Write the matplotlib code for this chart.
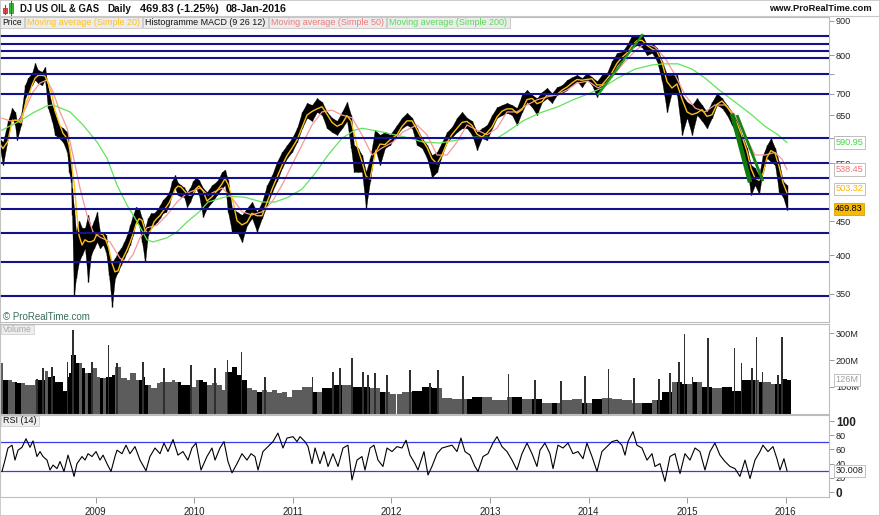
import numpy as np
import pandas as pd
import matplotlib
matplotlib.use("Agg")
import matplotlib.pyplot as plt
from matplotlib.patches import Rectangle
from matplotlib.lines import Line2D
from matplotlib.transforms import blended_transform_factory
from matplotlib.ticker import NullLocator, NullFormatter

plt.rcParams['font.family'] = ['Liberation Sans', 'DejaVu Sans']

# ---------------- data (time in decimal years) ----------------
price_t = [
    2008.030, 2008.060, 2008.111, 2008.152, 2008.182, 2008.202, 2008.243, 2008.284, 2008.314, 2008.355,
    2008.385, 2008.415, 2008.456, 2008.486, 2008.517, 2008.557, 2008.588, 2008.628, 2008.669, 2008.710,
    2008.730, 2008.750, 2008.760, 2008.781, 2008.801, 2008.831, 2008.862, 2008.892, 2008.923, 2008.953,
    2008.983, 2009.014, 2009.044, 2009.075, 2009.105, 2009.135, 2009.166, 2009.196, 2009.227, 2009.257,
    2009.288, 2009.318, 2009.348, 2009.379, 2009.409, 2009.440, 2009.470, 2009.501, 2009.531, 2009.561,
    2009.592, 2009.622, 2009.653, 2009.683, 2009.714, 2009.744, 2009.774, 2009.805, 2009.835, 2009.866,
    2009.896, 2009.927, 2009.957, 2009.987, 2010.018, 2010.048, 2010.089, 2010.129, 2010.180, 2010.231,
    2010.282, 2010.312, 2010.342, 2010.383, 2010.434, 2010.484, 2010.535, 2010.586, 2010.636, 2010.687,
    2010.738, 2010.789, 2010.839, 2010.890, 2010.941, 2010.991, 2011.042, 2011.093, 2011.144, 2011.194,
    2011.245, 2011.296, 2011.346, 2011.397, 2011.448, 2011.499, 2011.549, 2011.590, 2011.620, 2011.661,
    2011.701, 2011.742, 2011.783, 2011.833, 2011.884, 2011.935, 2011.985, 2012.056, 2012.107, 2012.158,
    2012.209, 2012.259, 2012.310, 2012.361, 2012.411, 2012.462, 2012.513, 2012.564, 2012.614, 2012.665,
    2012.716, 2012.766, 2012.817, 2012.868, 2012.918, 2012.969, 2013.020, 2013.071, 2013.121, 2013.172,
    2013.223, 2013.273, 2013.324, 2013.375, 2013.426, 2013.476, 2013.527, 2013.578, 2013.628, 2013.679,
    2013.730, 2013.781, 2013.831, 2013.882, 2013.933, 2013.983, 2014.034, 2014.085, 2014.135, 2014.186,
    2014.237, 2014.288, 2014.338, 2014.389, 2014.440, 2014.490, 2014.541, 2014.592, 2014.643, 2014.693,
    2014.744, 2014.795, 2014.845, 2014.896, 2014.947, 2014.998, 2015.048, 2015.099, 2015.150, 2015.200,
    2015.251, 2015.302, 2015.353, 2015.403, 2015.454, 2015.505, 2015.555, 2015.606, 2015.647, 2015.687,
    2015.728, 2015.768, 2015.809, 2015.849, 2015.890, 2015.931, 2015.971, 2016.012]
price_high = [
    598, 592, 637, 666, 657, 637, 650, 721, 739, 752,
    778, 760, 755, 768, 714, 673, 657, 628, 621, 613,
    580, 553, 505, 470, 434, 451, 440, 440, 460, 440,
    451, 465, 434, 434, 429, 401, 391, 396, 405, 410,
    419, 429, 444, 460, 473, 470, 455, 440, 455, 463,
    463, 468, 476, 485, 490, 498, 517, 528, 514, 510,
    506, 498, 505, 517, 524, 519, 505, 498, 510, 517,
    534, 538, 519, 471, 465, 460, 471, 481, 465, 481,
    510, 528, 553, 572, 586, 600, 621, 657, 678, 673,
    689, 680, 657, 644, 637, 657, 680, 650, 586, 580,
    566, 534, 560, 617, 607, 613, 607, 628, 644, 655,
    644, 621, 600, 586, 566, 572, 592, 613, 624, 644,
    657, 644, 637, 613, 621, 628, 650, 668, 673, 678,
    673, 666, 697, 709, 697, 689, 704, 714, 701, 716,
    721, 734, 741, 747, 739, 752, 741, 731, 747, 752,
    784, 806, 809, 828, 857, 857, 860, 828, 834, 820,
    784, 747, 747, 747, 697, 680, 673, 689, 673, 657,
    680, 701, 689, 673, 657, 637, 607, 580, 547, 541,
    528, 566, 586, 600, 580, 553, 517, 510]
price_low = [
    578, 547, 600, 644, 628, 596, 628, 689, 704, 721,
    734, 726, 721, 734, 666, 637, 607, 600, 592, 572,
    534, 516, 460, 349, 370, 391, 401, 410, 365, 401,
    410, 419, 410, 415, 405, 374, 335, 370, 378, 387,
    396, 405, 415, 429, 449, 444, 419, 391, 429, 440,
    444, 449, 455, 463, 465, 476, 493, 505, 493, 490,
    490, 473, 481, 493, 505, 493, 457, 471, 481, 493,
    505, 510, 465, 434, 434, 419, 444, 455, 434, 455,
    476, 498, 517, 541, 560, 572, 592, 621, 644, 637,
    657, 650, 621, 613, 607, 621, 637, 580, 534, 534,
    534, 471, 517, 580, 547, 580, 586, 607, 621, 628,
    621, 586, 580, 560, 524, 534, 566, 592, 602, 613,
    621, 621, 607, 576, 600, 596, 621, 644, 650, 655,
    650, 628, 657, 680, 668, 650, 680, 689, 678, 697,
    701, 709, 721, 731, 716, 734, 721, 692, 716, 731,
    747, 773, 786, 800, 820, 828, 822, 800, 806, 784,
    731, 657, 704, 697, 607, 644, 607, 650, 637, 621,
    644, 673, 666, 650, 628, 607, 566, 541, 493, 510,
    495, 534, 560, 553, 547, 498, 490, 468]
volume_m = [
    189, 125, 125, 119, 119, 113, 113, 106, 106, 106,
    125, 125, 125, 160, 136, 140, 119, 119, 85, 137,
    150, 219, 219, 219, 189, 189, 170, 151, 151, 170,
    170, 137, 132, 132, 137, 137, 144, 175, 175, 132,
    132, 125, 151, 151, 125, 125, 137, 106, 106, 94,
    94, 113, 119, 119, 119, 119, 125, 119, 119, 106,
    106, 106, 100, 100, 125, 125, 119, 106, 113, 106,
    87, 155, 155, 175, 144, 125, 94, 87, 81, 87,
    81, 87, 75, 81, 60, 87, 87, 100, 100, 81,
    81, 94, 94, 106, 106, 106, 106, 100, 100, 100,
    100, 100, 94, 94, 81, 81, 73, 73, 81, 81,
    85, 85, 100, 100, 94, 94, 59, 59, 56, 56,
    56, 56, 62, 62, 62, 62, 50, 50, 50, 62,
    62, 62, 56, 56, 56, 56, 40, 40, 40, 40,
    50, 50, 56, 56, 40, 40, 56, 56, 59, 59,
    56, 56, 50, 50, 40, 40, 40, 40, 50, 50,
    81, 81, 119, 119, 112, 112, 119, 119, 100, 100,
    94, 94, 100, 100, 85, 85, 125, 125, 125, 125,
    119, 119, 119, 112, 112, 112, 131, 126]

spike_t = [2008.405, 2008.466, 2008.557, 2008.710, 2008.770, 2008.963, 2009.135, 2009.217, 2009.480,
           2009.693, 2009.967, 2010.211, 2010.342, 2010.484, 2010.718, 2011.204, 2011.407, 2011.478,
           2011.600, 2011.712, 2011.762, 2011.833, 2011.955, 2012.188, 2012.391, 2012.472, 2012.726,
           2013.192, 2013.456, 2013.720, 2013.963, 2014.206, 2014.460, 2014.714, 2014.825, 2014.917,
           2014.977, 2015.058, 2015.211, 2015.484, 2015.555, 2015.657, 2015.707, 2015.768, 2015.921,
           2015.961]
spike_m = [131, 169, 175, 194, 312, 194, 256, 188, 194, 169, 181, 169, 200, 231, 137, 137, 156, 169,
           206, 156, 144, 150, 144, 162, 113, 162, 140, 148, 125, 122, 140, 165, 133, 128, 150, 194,
           297, 137, 281, 245, 189, 169, 287, 156, 144, 287]

ma50_t = [2008.050, 2008.131, 2008.233, 2008.304, 2008.365, 2008.436, 2008.507, 2008.568, 2008.639, 2008.710,
          2008.770, 2008.841, 2008.912, 2008.973, 2009.044, 2009.146, 2009.247, 2009.318, 2009.379, 2009.450,
          2009.521, 2009.622, 2009.724, 2009.825, 2009.927, 2010.058, 2010.140, 2010.282, 2010.383, 2010.484,
          2010.586, 2010.687, 2010.789, 2010.890, 2010.991, 2011.093, 2011.194, 2011.296, 2011.397, 2011.499,
          2011.600, 2011.701, 2011.803, 2011.904, 2012.016, 2012.117, 2012.259, 2012.361, 2012.462, 2012.564,
          2012.665, 2012.766, 2012.868, 2012.969, 2013.071, 2013.172, 2013.273, 2013.375, 2013.476, 2013.578,
          2013.679, 2013.781, 2013.882, 2013.994, 2014.095, 2014.197, 2014.338, 2014.470, 2014.572, 2014.673,
          2014.774, 2014.876, 2014.977, 2015.079, 2015.180, 2015.281, 2015.383, 2015.484, 2015.586, 2015.687,
          2015.789, 2015.890, 2015.961, 2016.012]
ma50_v = [643, 637, 639, 673, 704, 726, 734, 704, 657, 621,
          566, 505, 460, 434, 426, 419, 396, 390, 401, 425,
          440, 444, 460, 481, 496, 505, 493, 505, 488, 465,
          460, 465, 481, 510, 547, 586, 628, 657, 661, 650,
          644, 607, 566, 580, 592, 613, 628, 607, 566, 566,
          592, 628, 617, 607, 621, 657, 657, 673, 685, 692,
          697, 709, 726, 731, 714, 728, 773, 811, 834, 822,
          792, 747, 697, 666, 657, 673, 673, 650, 607, 566,
          566, 571, 558, 538.45]

ma200_t = [2008.050, 2008.233, 2008.365, 2008.507, 2008.568, 2008.740, 2008.872, 2009.014, 2009.115, 2009.217,
           2009.318, 2009.419, 2009.521, 2009.582, 2009.724, 2009.825, 2009.927, 2010.058, 2010.140, 2010.342,
           2010.515, 2010.687, 2010.819, 2010.951, 2011.093, 2011.225, 2011.357, 2011.499, 2011.630, 2011.701,
           2011.904, 2012.036, 2012.188, 2012.320, 2012.492, 2012.665, 2012.827, 2012.969, 2013.071, 2013.172,
           2013.334, 2013.507, 2013.679, 2013.841, 2014.014, 2014.135, 2014.298, 2014.470, 2014.643, 2014.774,
           2014.906, 2015.048, 2015.180, 2015.312, 2015.484, 2015.657, 2015.789, 2015.921, 2016.012]
ma200_v = [617, 637, 655, 671, 673, 657, 628, 592, 560, 510,
           476, 450, 422, 419, 425, 434, 449, 466, 481, 491,
           489, 481, 481, 489, 503, 531, 566, 600, 617, 621,
           613, 607, 600, 592, 590, 596, 602, 602, 600, 613,
           637, 655, 668, 685, 701, 714, 739, 762, 773, 776,
           776, 762, 739, 711, 680, 650, 625, 607, 590.95]

rsi_t = [2008.050, 2008.081, 2008.111, 2008.152, 2008.182, 2008.213, 2008.253, 2008.294, 2008.334, 2008.365,
         2008.405, 2008.436, 2008.466, 2008.507, 2008.537, 2008.568, 2008.608, 2008.639, 2008.679, 2008.720,
         2008.760, 2008.781, 2008.811, 2008.862, 2008.892, 2008.923, 2008.963, 2009.004, 2009.044, 2009.075,
         2009.115, 2009.156, 2009.196, 2009.217, 2009.267, 2009.308, 2009.348, 2009.399, 2009.450, 2009.511,
         2009.551, 2009.602, 2009.653, 2009.693, 2009.734, 2009.785, 2009.835, 2009.886, 2009.937, 2009.977,
         2010.018, 2010.069, 2010.129, 2010.180, 2010.211, 2010.261, 2010.302, 2010.342, 2010.383, 2010.434,
         2010.484, 2010.535, 2010.576, 2010.616, 2010.647, 2010.697, 2010.748, 2010.799, 2010.849, 2010.900,
         2010.941, 2011.002, 2011.042, 2011.073, 2011.123, 2011.154, 2011.194, 2011.225, 2011.275, 2011.316,
         2011.357, 2011.407, 2011.458, 2011.509, 2011.559, 2011.600, 2011.651, 2011.701, 2011.732, 2011.783,
         2011.823, 2011.864, 2011.914, 2011.955, 2012.006, 2012.056, 2012.107, 2012.148, 2012.188, 2012.239,
         2012.269, 2012.330, 2012.371, 2012.411, 2012.462, 2012.513, 2012.564, 2012.614, 2012.665, 2012.705,
         2012.746, 2012.797, 2012.847, 2012.878, 2012.929, 2012.979, 2013.030, 2013.071, 2013.121, 2013.172,
         2013.223, 2013.273, 2013.324, 2013.375, 2013.426, 2013.476, 2013.507, 2013.557, 2013.608, 2013.639,
         2013.689, 2013.740, 2013.791, 2013.841, 2013.892, 2013.943, 2013.983, 2014.034, 2014.085, 2014.135,
         2014.186, 2014.237, 2014.288, 2014.338, 2014.369, 2014.399, 2014.450, 2014.490, 2014.541, 2014.592,
         2014.643, 2014.673, 2014.724, 2014.774, 2014.825, 2014.876, 2014.927, 2014.977, 2015.028, 2015.079,
         2015.129, 2015.180, 2015.231, 2015.281, 2015.332, 2015.383, 2015.434, 2015.484, 2015.535, 2015.586,
         2015.637, 2015.687, 2015.738, 2015.768, 2015.819, 2015.870, 2015.910, 2015.941, 2015.981, 2016.012]
rsi_v = [29, 45, 62, 66, 45, 59, 63, 75, 63, 72,
         50, 57, 50, 45, 31, 38, 33, 43, 29, 52,
         33, 22, 40, 50, 45, 54, 50, 57, 45, 52,
         40, 29, 50, 59, 54, 66, 54, 64, 45, 30,
         50, 62, 54, 69, 57, 74, 52, 57, 45, 62,
         69, 31, 50, 62, 45, 62, 71, 43, 27, 40,
         54, 45, 54, 50, 31, 57, 64, 71, 83, 62,
         76, 78, 71, 78, 71, 64, 40, 62, 40, 57,
         36, 54, 36, 62, 66, 17, 45, 50, 31, 62,
         66, 45, 36, 62, 57, 64, 62, 73, 52, 40,
         31, 57, 24, 36, 54, 62, 64, 66, 57, 76,
         57, 52, 36, 29, 50, 54, 69, 78, 64, 57,
         45, 31, 54, 69, 54, 36, 59, 69, 54, 33,
         66, 62, 69, 54, 57, 47, 69, 50, 29, 57,
         64, 71, 73, 66, 52, 71, 85, 66, 62, 45,
         54, 36, 40, 15, 50, 54, 26, 54, 45, 62,
         57, 31, 57, 69, 52, 43, 36, 33, 22, 45,
         19, 45, 57, 66, 57, 64, 47, 31, 47, 30.008]

support_levels = [855, 832, 810, 791, 749, 700, 600, 551, 523, 495, 470, 432, 391, 347]
trend_t = [[2014.092, 2014.551], [2015.454, 2015.637], [2015.505, 2015.768]]
trend_p = [[696, 860], [653, 515], [650, 517]]

year_ticks = [2009, 2010, 2011, 2012, 2013, 2014, 2015, 2016]
price_ticks = [350, 400, 450, 550, 600, 650, 700, 750, 800, 900]
price_tick_labels = ['350', '400', '450', '550', '600', '650', '700', '', '800', '900']
last_close, last_ma20, last_ma50, last_ma200 = '469.83', '503.32', '538.45', '590.95'
last_volume, last_rsi = 126, '30.008'

assert len(price_t) == len(price_high) == len(price_low) == len(volume_m)
assert len(rsi_t) == len(rsi_v) and len(ma50_t) == len(ma50_v) and len(ma200_t) == len(ma200_v)
assert len(spike_t) == len(spike_m)

# ---------------- figure ----------------
W, H = 880, 516
fig = plt.figure(figsize=(W / 100, H / 100), dpi=100)
fig.patch.set_facecolor('white')
renderer = fig.canvas.get_renderer()


def fx(px):
    return px / W


def fy(py):
    return 1 - py / H


def rect(x0, y0, x1, y1):
    return [fx(x0), fy(y1), fx(x1) - fx(x0), fy(y0) - fy(y1)]


def fit(txt, max_px):
    for _ in range(3):
        w = txt.get_window_extent(renderer=renderer).width
        if w <= max_px:
            break
        txt.set_fontsize(txt.get_fontsize() * max_px / w * 0.99)
    return txt


XL = (2008.03, 2016.438)
ax_p = fig.add_axes(rect(0, 17, 829, 322))
ax_v = fig.add_axes(rect(0, 324, 829, 413.5))
ax_r = fig.add_axes(rect(0, 415, 829, 497))

for ax in (ax_p, ax_v, ax_r):
    for s in ax.spines.values():
        s.set_color('#bdbdbd')
        s.set_linewidth(0.8)
    ax.set_xlim(XL)
    ax.yaxis.tick_right()
    ax.tick_params(axis='y', colors='#8a8a8a', labelcolor='#222222', labelsize=6.6,
                   length=3.5, width=0.6, pad=1.5)
    ax.set_facecolor('white')
for ax in (ax_p, ax_v):
    ax.tick_params(axis='x', bottom=False, labelbottom=False)

# ----- price panel -----
pt = np.array(price_t)
phi = np.array(price_high, float)
plo = np.array(price_low, float)
mid = (phi + plo) / 2
idx = pd.Timestamp('2008-01-01') + pd.to_timedelta((pt - 2008) * 365.25, unit='D')
ma20 = pd.Series(mid, index=idx).rolling('28D', min_periods=1).mean().values

ax_p.set_yscale('log')
ax_p.set_ylim(317.6, 912.5)
ax_p.fill_between(pt, plo, phi, color='black', lw=0.2, zorder=2)
ax_p.vlines(pt, plo, phi, color='black', lw=1.0, zorder=2)
ax_p.plot(ma200_t, ma200_v, color='#62E35A', lw=0.9, zorder=3)
ax_p.plot(ma50_t, ma50_v, color='#F29A9A', lw=0.9, zorder=3)
ax_p.plot(pt, ma20, color='#FFBE14', lw=1.0, zorder=3)
for lv in support_levels:
    ax_p.axhline(lv, color='#12128F', lw=1.5, zorder=4)
for (t0, t1), (p0, p1), lw, col in zip(trend_t, trend_p, [1.6, 3.2, 2.0],
                                       ['#239B23', '#0E7A0E', '#138513']):
    ax_p.plot([t0, t1], [p0, p1], color=col, lw=lw, zorder=5, solid_capstyle='butt')

ax_p.set_yticks(price_ticks)
ax_p.set_yticklabels(price_tick_labels)
ax_p.yaxis.set_minor_locator(NullLocator())
ax_p.yaxis.set_minor_formatter(NullFormatter())

tr_p = blended_transform_factory(ax_p.transAxes, ax_p.transData)


def tag(ax, tr, yv, s, tc, fc='white', ec='#b5b5b5'):
    ax.text(1.0075, yv, s, transform=tr, fontsize=6.6, color=tc, va='center', ha='left',
            bbox=dict(boxstyle='square,pad=0.18', fc=fc, ec=ec, lw=0.6), clip_on=False, zorder=10)


tag(ax_p, tr_p, float(last_ma200), last_ma200, '#3FD83F')
tag(ax_p, tr_p, float(last_ma50), last_ma50, '#EE7474')
tag(ax_p, tr_p, float(last_ma20), last_ma20, '#FFB400')
tag(ax_p, tr_p, float(last_close), last_close, '#000000', fc='#F8B900', ec='#d9a000')

# ----- volume panel -----
gaps = np.diff(pt)
widths = np.append(gaps, gaps[-1]) * 0.92
vcols = ['#000000' if (i > 0 and mid[i] < mid[i - 1]) else '#5c5c5c' for i in range(len(mid))]
ax_v.bar(pt, volume_m, width=widths, color=vcols, align='edge', linewidth=0, zorder=2)
ax_v.bar(spike_t, spike_m, width=0.011, color='#303030', linewidth=0, zorder=3)
ax_v.set_ylim(0, 335)
ax_v.set_yticks([100, 200, 300])
ax_v.set_yticklabels(['100M', '200M', '300M'])
tr_v = blended_transform_factory(ax_v.transAxes, ax_v.transData)
tag(ax_v, tr_v, last_volume, f'{last_volume}M', '#a0a0a0')

# ----- RSI panel -----
ax_r.plot(rsi_t, rsi_v, color='black', lw=0.8, zorder=3)
ax_r.axhline(70, color='#3A3AF2', lw=0.9, zorder=2)
ax_r.axhline(30, color='#3A3AF2', lw=0.9, zorder=2)
ax_r.set_ylim(-7, 108.5)
ax_r.set_yticks([0, 20, 40, 60, 80, 100])
ax_r.set_yticklabels(['0', '20', '40', '60', '80', '100'])
for lab in ax_r.get_yticklabels():
    if lab.get_text() in ('0', '100'):
        lab.set_fontsize(8.5)
        lab.set_fontweight('bold')
tr_r = blended_transform_factory(ax_r.transAxes, ax_r.transData)
tag(ax_r, tr_r, float(last_rsi), last_rsi, '#222222')
ax_r.set_xticks(year_ticks)
ax_r.set_xticklabels([str(y) for y in year_ticks])
ax_r.tick_params(axis='x', colors='#8a8a8a', labelcolor='#222222', labelsize=7,
                 length=4, width=0.6, pad=3)

# ----- header -----
hdr = dict(fontsize=8.2, fontweight='bold', va='center', ha='left', color='#111111')
fit(fig.text(fx(20), fy(8.5), 'DJ US OIL & GAS', **hdr), 80)
fit(fig.text(fx(107), fy(8.5), 'Daily', **hdr), 24)
fit(fig.text(fx(140), fy(8.5), '469.83 (-1.25%)', **hdr), 79)
fit(fig.text(fx(226), fy(8.5), '08-Jan-2016', **hdr), 62)
fit(fig.text(fx(872), fy(8.5), 'www.ProRealTime.com', fontsize=8.2, fontweight='bold',
             va='center', ha='right', color='#111111'), 104)
# candle icon
fig.add_artist(Line2D([fx(5), fx(5)], [fy(5), fy(14)], color='#c03030', lw=0.8, transform=fig.transFigure))
fig.add_artist(Rectangle((fx(3), fy(13)), fx(4), 5 / H, transform=fig.transFigure,
                         fc='#e05050', ec='#a02020', lw=0.5))
fig.add_artist(Line2D([fx(11), fx(11)], [fy(1), fy(15)], color='#208020', lw=0.8, transform=fig.transFigure))
fig.add_artist(Rectangle((fx(9), fy(13)), fx(4), 10 / H, transform=fig.transFigure,
                         fc='#40c040', ec='#208020', lw=0.5))
fig.add_artist(Line2D([0, 1], [fy(16), fy(16)], color='#c8c8c8', lw=0.8, transform=fig.transFigure))

# ----- legend boxes -----
legend_items = [('Price', '#111111', 0, 24),
                ('Moving average (Simple 20)', '#FFC21A', 25, 142),
                ('Histogramme MACD (9 26 12)', '#111111', 143, 268),
                ('Moving average (Simple 50)', '#EE7C7C', 269, 386),
                ('Moving average (Simple 200)', '#55DD55', 387, 510)]
for lab, col, x0, x1 in legend_items:
    fig.add_artist(Rectangle((fx(x0), fy(28)), fx(x1 - x0), 11 / H, transform=fig.transFigure,
                             fc='#ececec', ec='#c4c4c4', lw=0.6, zorder=20))
    fit(fig.text(fx(x0 + 2), fy(22.8), lab, color=col, fontsize=7.2, va='center', ha='left', zorder=21),
        x1 - x0 - 4)

fig.text(fx(3), fy(317.5), '\u00a9 ProRealTime.com', fontsize=7, color='#3a6e5a', va='center', zorder=21)

fig.add_artist(Rectangle((fx(1), fy(334)), fx(33), 9.5 / H, transform=fig.transFigure,
                         fc='#eeeeee', ec='#d0d0d0', lw=0.6, zorder=20))
fit(fig.text(fx(3), fy(329.3), 'Volume', color='#a8a8a8', fontsize=7, va='center', zorder=21), 29)
fig.add_artist(Rectangle((fx(1), fy(426)), fx(38), 10.5 / H, transform=fig.transFigure,
                         fc='#eeeeee', ec='#d0d0d0', lw=0.6, zorder=20))
fit(fig.text(fx(3), fy(420.8), 'RSI (14)', color='#111111', fontsize=7.2, va='center', zorder=21), 34)

fig.add_artist(Rectangle((0, 0), 1, 1, fill=False, ec='#c4c4c4', lw=1.2, transform=fig.transFigure))

fig.savefig('out.png', dpi=100, facecolor='white')
